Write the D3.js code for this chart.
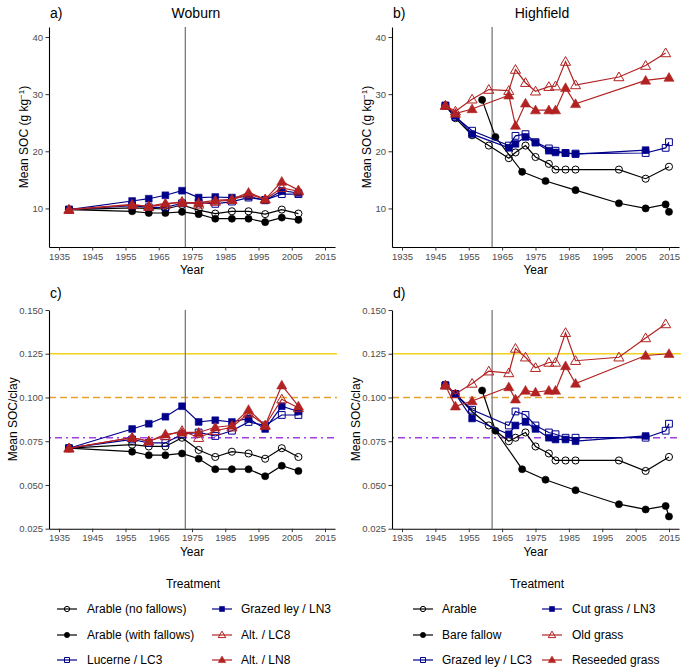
<!DOCTYPE html>
<html><head><meta charset="utf-8">
<script src="https://cdn.jsdelivr.net/npm/d3@7"></script>
<style>body{margin:0;background:#fff}svg{display:block;font-family:"Liberation Sans",Arial,sans-serif}</style>
</head><body><svg id="c" width="685" height="669"></svg>
<script>
// ---------- DATA ----------
const xTicks = [1935,1945,1955,1965,1975,1985,1995,2005,2015];
const socTicks = [10,20,30,40];
const ratioTicks = [0.025,0.050,0.075,0.100,0.125,0.150];
const refLines = [0.125,0.100,0.077];

// Woburn
const wYears = [1938,1957,1962,1967,1972,1977,1982,1987,1992,1997,2002,2007];
const wNoFallowSOC   = [9.8,10.1,10.0,9.9,10.6,9.7,9.1,9.5,9.5,9.0,9.8,9.1];
const wFallowSOC     = [9.8,9.5,9.2,9.2,9.4,9.0,8.2,8.2,8.2,7.6,8.4,8.0];
const wLucerneSOC    = [9.8,10.5,10.2,10.2,10.9,11.0,10.8,11.2,11.9,11.5,12.5,12.5];
const wGrazedSOC     = [9.8,11.3,11.7,12.3,13.1,11.9,12.0,11.9,12.1,11.4,13.1,12.7];
const wLC8SOC        = [9.8,10.7,10.3,10.7,11.2,10.7,11.2,11.5,12.5,11.6,13.6,13.0];
const wLN8SOC        = [9.8,10.6,10.4,10.9,11.0,11.0,11.4,11.6,12.8,11.6,14.7,13.2];
const wNoFallowRatio = [0.071,0.073,0.072,0.072,0.077,0.070,0.066,0.069,0.068,0.065,0.071,0.066];
const wFallowRatio   = [0.071,0.069,0.067,0.067,0.068,0.065,0.059,0.059,0.059,0.055,0.061,0.058];
const wLucerneRatio  = [0.071,0.076,0.074,0.074,0.079,0.080,0.078,0.081,0.086,0.084,0.090,0.090];
const wGrazedRatio   = [0.071,0.082,0.085,0.089,0.095,0.086,0.087,0.086,0.088,0.082,0.095,0.092];
const wLC8Ratio      = [0.071,0.077,0.075,0.078,0.081,0.077,0.081,0.083,0.091,0.084,0.099,0.094];
const wLN8Ratio      = [0.071,0.077,0.075,0.079,0.080,0.080,0.083,0.084,0.093,0.084,0.107,0.095];

// Highfield
const hArableYears = [1948,1951,1956,1961,1967,1969,1972,1975,1979,1981,1984,1987,2000,2008,2015];
const hArableSOC   = [28.0,25.8,22.8,21.0,18.8,19.8,21.0,19.0,17.8,16.8,16.8,16.8,16.8,15.2,17.3];
const hArableRatio = [0.107,0.102,0.092,0.084,0.075,0.077,0.080,0.072,0.068,0.064,0.064,0.064,0.064,0.058,0.066];
const hFallowYears = [1959,1963,1971,1978,1987,2000,2008,2014,2015];
const hFallowSOC   = [29.0,22.5,16.4,14.8,13.2,10.9,10.0,10.7,9.4];
const hFallowRatio = [0.104,0.081,0.059,0.053,0.047,0.039,0.036,0.038,0.032];
const hLC3Years = [1948,1951,1956,1967,1969,1972,1975,1979,1981,1984,1987,2008,2014,2015];
const hLC3SOC   = [28.0,26.0,23.6,21.0,22.7,23.0,21.6,20.5,20.1,19.7,19.6,19.7,20.6,21.6];
const hLC3Ratio = [0.107,0.102,0.093,0.084,0.092,0.090,0.084,0.080,0.079,0.077,0.077,0.077,0.081,0.085];
const hLN3Years = [1948,1951,1956,1967,1969,1972,1975,1979,1981,1984,1987,2008];
const hLN3SOC   = [28.0,26.2,23.0,20.6,21.3,22.5,21.5,20.1,19.8,19.7,19.5,20.2];
const hLN3Ratio = [0.107,0.102,0.088,0.079,0.084,0.086,0.082,0.077,0.076,0.076,0.075,0.078];
const hOldYears = [1948,1951,1956,1961,1967,1969,1972,1975,1979,1981,1984,1987,2000,2008,2014];
const hOldSOC   = [28.0,27.0,29.1,30.8,30.6,34.3,32.0,30.5,31.3,31.4,35.7,31.6,33.0,35.0,37.2];
const hOldRatio = [0.107,0.102,0.108,0.115,0.114,0.128,0.123,0.117,0.120,0.120,0.137,0.121,0.123,0.134,0.142];
const hReYears = [1948,1951,1956,1967,1969,1972,1975,1979,1981,1984,1987,2008,2015];
const hReSOC   = [28.0,26.6,27.4,29.8,24.5,28.4,27.2,27.2,27.2,31.1,28.3,32.4,32.9];
const hReRatio = [0.107,0.095,0.098,0.106,0.099,0.104,0.103,0.104,0.104,0.118,0.108,0.124,0.125];

const wNames = ["Arable (no fallows)","Arable (with fallows)","Lucerne / LC3","Grazed ley / LN3","Alt. / LC8","Alt. / LN8"];
const hNames = ["Arable","Bare fallow","Grazed ley / LC3","Cut grass / LN3","Old grass","Reseeded grass"];

// ---------- STYLE ----------
const BLACK="#000000", BLUE="#00008B", RED="#B22222";
const styles = [
  {color:BLACK, shape:"circle", fill:false},
  {color:BLACK, shape:"circle", fill:true},
  {color:BLUE, shape:"square", fill:false},
  {color:BLUE, shape:"square", fill:true},
  {color:RED, shape:"triangle", fill:false},
  {color:RED, shape:"triangle", fill:true}
];

const mk = (years, vals) => years.map((y,i)=>({x:y,y:vals[i]}));
const wSOC = [wNoFallowSOC,wFallowSOC,wLucerneSOC,wGrazedSOC,wLC8SOC,wLN8SOC].map(v=>mk(wYears,v));
const wRat = [wNoFallowRatio,wFallowRatio,wLucerneRatio,wGrazedRatio,wLC8Ratio,wLN8Ratio].map(v=>mk(wYears,v));
const hSOC = [mk(hArableYears,hArableSOC),mk(hFallowYears,hFallowSOC),mk(hLC3Years,hLC3SOC),mk(hLN3Years,hLN3SOC),mk(hOldYears,hOldSOC),mk(hReYears,hReSOC)];
const hRat = [mk(hArableYears,hArableRatio),mk(hFallowYears,hFallowRatio),mk(hLC3Years,hLC3Ratio),mk(hLN3Years,hLN3Ratio),mk(hOldYears,hOldRatio),mk(hReYears,hReRatio)];

const svg = d3.select("#c");

function symbolPath(shape, size){
  const t = shape==="circle"?d3.symbolCircle:shape==="square"?d3.symbolSquare:d3.symbolTriangle;
  return d3.symbol().type(t).size(size)();
}
function drawPoint(g, x, y, st, scale){
  const s = scale||1;
  const size = st.shape==="circle"?40*s:st.shape==="square"?46*s:44*s;
  g.append("path").attr("d",symbolPath(st.shape,size))
   .attr("transform",`translate(${x},${y+(st.shape==="triangle"?0.8*s:0)})`)
   .attr("fill",st.fill?st.color:"none").attr("stroke",st.color).attr("stroke-width",st.fill?0.6:1);
}

function panel(o){
  const g = svg.append("g");
  const x = d3.scaleLinear().domain([1932,2018]).range([o.left,o.right]);
  const y = d3.scaleLinear().domain(o.yDomain).range([o.bottom,o.top]);
  // reference lines
  if(o.ratio){
    const ls = [{v:refLines[0],c:"#F2D21A",d:null},{v:refLines[1],c:"#E5A32C",d:"7,4"},{v:refLines[2],c:"#A43DE0",d:"2,4,7,4"}];
    ls.forEach(l=>g.append("line").attr("x1",o.left).attr("x2",o.right+2).attr("y1",y(l.v)).attr("y2",y(l.v))
      .attr("stroke",l.c).attr("stroke-width",1.6).attr("stroke-dasharray",l.d));
  }
  g.append("line").attr("x1",x(o.vline)).attr("x2",x(o.vline)).attr("y1",o.top).attr("y2",o.bottom)
    .attr("stroke","#7a7a7a").attr("stroke-width",1.3);
  // series
  const line = d3.line().x(d=>x(d.x)).y(d=>y(d.y));
  o.series.forEach((s,i)=>{
    const st = styles[i];
    g.append("path").attr("d",line(s)).attr("fill","none").attr("stroke",st.color).attr("stroke-width",1.2);
    s.forEach(d=>drawPoint(g,x(d.x),y(d.y),st));
  });
  // axes
  const xa = g.append("g").attr("transform",`translate(0,${o.bottom})`)
    .call(d3.axisBottom(x).tickValues(xTicks).tickFormat(d3.format("d")).tickSize(3.5).tickSizeOuter(0).tickPadding(2.5));
  const ya = g.append("g").attr("transform",`translate(${o.left},0)`)
    .call(d3.axisLeft(y).tickValues(o.ticks).tickFormat(o.ratio?d3.format(".3f"):d3.format("d")).tickSize(3.5).tickSizeOuter(0).tickPadding(2.5));
  [xa,ya].forEach(a=>{
    a.selectAll("text").attr("fill","#4D4D4D").style("font-size","9.5px").style("font-family","Liberation Sans, Arial, sans-serif");
    a.select(".domain").attr("stroke","#000").attr("stroke-width",1.1);
    a.selectAll(".tick line").attr("stroke","#333");
  });
  // titles
  g.append("text").attr("x",(o.left+o.right)/2).attr("y",o.bottom+27).attr("text-anchor","middle")
    .style("font-size","12px").text("Year");
  const yt = g.append("text").attr("transform",`translate(${o.ytx},${(o.top+o.bottom)/2}) rotate(-90)`)
    .attr("text-anchor","middle").style("font-size","12px");
  if(o.ratio){ yt.text("Mean SOC/clay"); }
  else {
    yt.append("tspan").text("Mean SOC (g kg");
    yt.append("tspan").attr("dy",-4.5).style("font-size","8px").text("\u22121");
    yt.append("tspan").attr("dy",4.5).text(")");
  }
  g.append("text").attr("x",o.left+1).attr("y",o.tagY).style("font-size","14px").text(o.tag);
  if(o.title) g.append("text").attr("x",o.titleX).attr("y",o.tagY).attr("text-anchor","middle").style("font-size","14px").text(o.title);
}

panel({left:49,right:335,top:27,bottom:247,yDomain:[3.25,41.75],ticks:socTicks,vline:1973,series:wSOC,tag:"a)",title:"Woburn",titleX:196,tagY:18,ytx:28});
panel({left:392,right:679,top:27,bottom:247,yDomain:[3.25,41.75],ticks:socTicks,vline:1962,series:hSOC,tag:"b)",title:"Highfield",titleX:542,tagY:18,ytx:371});
panel({left:49,right:335,top:310,bottom:528.7,yDomain:[0.025,0.150],ticks:ratioTicks,vline:1973,series:wRat,ratio:true,tag:"c)",tagY:298,ytx:17});
panel({left:392,right:679,top:310,bottom:528.7,yDomain:[0.025,0.150],ticks:ratioTicks,vline:1962,series:hRat,ratio:true,tag:"d)",tagY:298,ytx:360});

// legends
function legend(names, titleX, cols){
  const g = svg.append("g");
  g.append("text").attr("x",titleX).attr("y",588).attr("text-anchor","middle").style("font-size","12px").text("Treatment");
  const rows=[609,635,660];
  names.forEach((n,i)=>{
    const c = cols[Math.floor(i/3)], r = rows[i%3], st = styles[i];
    g.append("line").attr("x1",c.k).attr("x2",c.k+20).attr("y1",r).attr("y2",r).attr("stroke",st.color).attr("stroke-width",1.2);
    drawPoint(g,c.k+10,r,st,0.55);
    g.append("text").attr("x",c.t).attr("y",r+4.3).style("font-size","12px").text(n);
  });
}
legend(wNames,193,[{k:57,t:87},{k:212,t:241}]);
legend(hNames,537,[{k:413,t:442},{k:542,t:572}]);
</script></body></html>
